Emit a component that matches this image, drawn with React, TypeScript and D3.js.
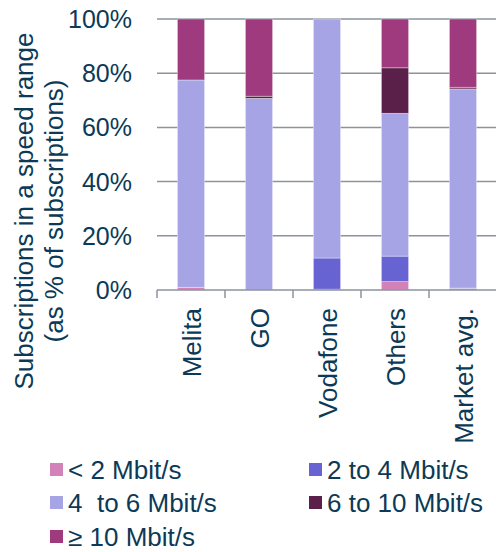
import * as d3 from "d3";
import { useEffect, useRef } from "react";

const categories = ["Melita", "GO", "Vodafone", "Others", "Market avg."];
const seriesNames = ["< 2 Mbit/s", "2 to 4 Mbit/s", "4  to 6 Mbit/s", "6 to 10 Mbit/s", "≥ 10 Mbit/s"];
const below2 = [1.0, 0, 0.3, 3.1, 0.5];
const from2to4 = [0, 0, 11.5, 9.4, 0.2];
const from4to6 = [76.5, 70.7, 88.2, 52.7, 73.5];
const from6to10 = [0, 0.8, 0, 16.8, 0.6];
const above10 = [22.5, 28.5, 0, 18.0, 25.2];
const yTicks = [0, 20, 40, 60, 80, 100];
const colors = ["#d282b8", "#6763d2", "#a6a4e4", "#5a2049", "#9e3a7d"];

const textColor = "#0c3a56";
const gridColor = "#8d929b";
const font = "'Liberation Sans', Arial, sans-serif";

export default function App() {
  const ref = useRef<SVGSVGElement>(null);

  useEffect(() => {
    const svg = d3.select(ref.current);
    svg.selectAll("*").remove();

    const width = 496;
    const height = 552;
    const margin = { top: 19, left: 157, right: -1, bottom: 262 };
    const plotRight = width - margin.right;
    const plotBottom = height - margin.bottom;

    const table = categories.map((c, i) => ({
      cat: c,
      s0: below2[i],
      s1: from2to4[i],
      s2: from4to6[i],
      s3: from6to10[i],
      s4: above10[i],
    }));
    const keys = ["s0", "s1", "s2", "s3", "s4"];
    const stacked = d3.stack<any>().keys(keys)(table);

    const x = d3.scaleBand().domain(categories).range([margin.left, plotRight]).paddingInner(0.6).paddingOuter(0.3);
    const y = d3.scaleLinear().domain([0, 100]).range([plotBottom, margin.top]);

    // gridlines
    svg.append("g")
      .selectAll("line")
      .data(yTicks.filter(t => t > 0))
      .enter()
      .append("line")
      .attr("x1", margin.left)
      .attr("x2", plotRight)
      .attr("y1", d => y(d))
      .attr("y2", d => y(d))
      .style("stroke", gridColor)
      .style("stroke-width", 1.5);

    // y tick labels
    svg.append("g")
      .selectAll("text")
      .data(yTicks)
      .enter()
      .append("text")
      .attr("x", 132)
      .attr("y", d => y(d))
      .attr("dy", "0.36em")
      .attr("text-anchor", "end")
      .style("font-family", font)
      .style("font-size", "25px")
      .style("fill", textColor)
      .text(d => d + "%");

    // bars
    stacked.forEach((layer, li) => {
      svg.append("g")
        .selectAll("rect")
        .data(layer)
        .enter()
        .append("rect")
        .attr("x", d => x(d.data.cat) as number)
        .attr("width", x.bandwidth())
        .attr("y", d => y(d[1]))
        .attr("height", d => Math.max(0, y(d[0]) - y(d[1])))
        .style("fill", colors[li])
        .style("stroke", "#ffffff")
        .style("stroke-opacity", 0.45)
        .style("stroke-width", 0.8);
    });

    // bottom axis
    svg.append("line")
      .attr("x1", margin.left)
      .attr("x2", plotRight)
      .attr("y1", plotBottom)
      .attr("y2", plotBottom)
      .style("stroke", gridColor)
      .style("stroke-width", 1.5);

    const step = x.step();
    svg.append("g")
      .selectAll("line")
      .data(d3.range(categories.length + 1))
      .enter()
      .append("line")
      .attr("x1", i => margin.left + i * step)
      .attr("x2", i => margin.left + i * step)
      .attr("y1", plotBottom)
      .attr("y2", plotBottom + 8)
      .style("stroke", gridColor)
      .style("stroke-width", 1.5);

    // category labels
    svg.append("g")
      .selectAll("text")
      .data(categories)
      .enter()
      .append("text")
      .attr("transform", d => `translate(${(x(d) as number) + x.bandwidth() / 2 + 1}, ${plotBottom + 18}) rotate(-90)`)
      .attr("dy", "0.36em")
      .attr("text-anchor", "end")
      .style("font-family", font)
      .style("font-size", "26px")
      .style("fill", textColor)
      .text(d => d);

    // y title
    const title = svg.append("text")
      .attr("transform", "translate(33, 211) rotate(-90)")
      .attr("text-anchor", "middle")
      .style("font-family", font)
      .style("font-size", "26px")
      .style("fill", textColor);
    title.append("tspan").attr("x", 0).attr("y", 0).text("Subscriptions in a speed range");
    title.append("tspan").attr("x", 0).attr("y", 30).text("(as % of subscriptions)");

    // legend
    const legendPos = [
      [50, 470], [309, 470],
      [50, 503], [309, 503],
      [50, 537],
    ];
    const legend = svg.append("g")
      .selectAll("g")
      .data(seriesNames)
      .enter()
      .append("g")
      .attr("transform", (d, i) => `translate(${legendPos[i][0]}, ${legendPos[i][1]})`);
    legend.append("rect")
      .attr("x", 0)
      .attr("y", -7)
      .attr("width", 13)
      .attr("height", 13)
      .style("fill", (d, i) => colors[i]);
    legend.append("text")
      .attr("x", 18)
      .attr("y", 0)
      .attr("dy", "0.36em")
      .style("font-family", font)
      .style("font-size", "26px")
      .style("white-space", "pre")
      .style("fill", textColor)
      .text(d => d);
  }, []);

  return (
    <svg
      ref={ref}
      width={496}
      height={552}
      style={{ position: "absolute", left: 0, top: 0, background: "#ffffff" }}
    ></svg>
  );
}
